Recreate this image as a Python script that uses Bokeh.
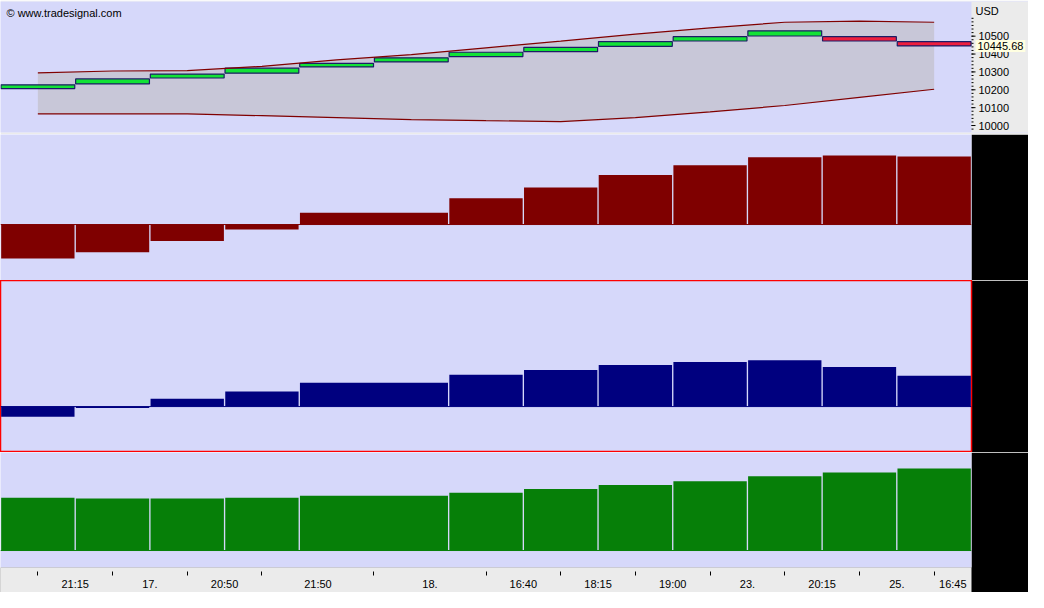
import numpy as np
from bokeh.plotting import figure
from bokeh.models import Range1d, LinearAxis, FixedTicker, Label, Span, BoxAnnotation
from bokeh.layouts import column
from bokeh.embed import file_html
from bokeh.resources import INLINE
from bokeh.core.properties import value

# ---------------- data ----------------
candle_open = [10207, 10233, 10266, 10293, 10328, 10356, 10386, 10413, 10443, 10473, 10501, 10497, 10469]
candle_close = [10228, 10261, 10288, 10321, 10348, 10379, 10410, 10437, 10470, 10497, 10530, 10473, 10445.68]
band_upper = [10295, 10305, 10307, 10331, 10367, 10397, 10435, 10472, 10511, 10546, 10578, 10584, 10578]
band_lower = [10065, 10065, 10065, 10055, 10044, 10033, 10027, 10022, 10044, 10076, 10112, 10158, 10203]
price_ticks = [10000, 10100, 10200, 10300, 10400, 10500]
price_minor_step = 20
last_price = 10445.68
currency = "USD"
credit = "\u00a9 www.tradesignal.com"

bar_periods = [1, 1, 1, 1, 2, 1, 1, 1, 1, 1, 1, 1]
momentum = [-35, -28.5, -17, -5, 12, 27, 38, 51, 61, 69, 71, 70]
oscillator = [-10.5, -1.5, 8, 15.5, 24.5, 32.5, 37.5, 42.5, 45.5, 47.5, 40.5, 31.5]
volume = [54.5, 53.5, 53.5, 54.5, 56.5, 59.5, 63.5, 67.5, 71.5, 76.5, 80.5, 84.5]
time_labels = ["21:15", "17.", "20:50", "21:50", "18.", "16:40", "18:15", "19:00", "23.", "20:15", "25.", "16:45"]

# ---------------- style ----------------
W = 1028
RIGHT = 57
BG = "#D6D8FA"
GRAY = "#EBEBEB"
FONT = "Liberation Sans"

n = len(candle_open)
xr = Range1d(0, n)


def make_fig(h, yr, border, x_range=xr, right=RIGHT, **kw):
    p = figure(width=W, height=h, x_range=x_range, y_range=yr, output_backend="svg",
               toolbar_location=None, x_axis_location=None, y_axis_location=None,
               min_border=0, min_border_right=right, background_fill_color=BG,
               border_fill_color=border, outline_line_color=None, **kw)
    p.grid.grid_line_color = None
    return p


# ---------------- price panel (its frame also holds the price scale strip) ----------------
y1 = Range1d(9961, 10694)
x1 = Range1d(0, n * W / (W - RIGHT))
f1 = make_fig(134, y1, GRAY, x_range=x1, right=0, min_border_top=1, min_border_bottom=2,
              frame_width=W)
if "frame_align" in f1.properties():
    f1.frame_align = False
f1.add_layout(BoxAnnotation(left=n, fill_color=GRAY, fill_alpha=1, line_color=None, level="underlay"))

idx = np.arange(n)
centers = idx + 0.5
f1.varea(x=centers, y1=band_lower, y2=band_upper, fill_color="#C8C7D8")
o = np.array(candle_open, dtype=float)
c = np.array(candle_close, dtype=float)
cols = ["#12E236" if cc >= oo else "#EE1E3E" for oo, cc in zip(o, c)]
f1.quad(left=idx + 0.006, right=idx + 1 - 0.006, bottom=np.minimum(o, c), top=np.maximum(o, c),
        fill_color=cols, line_color="#1C1C66", line_width=1.2)
f1.line(centers, band_upper, line_color="#800000", line_width=1.2)
f1.line(centers, band_lower, line_color="#800000", line_width=1.2)

# price scale at the right edge of the chart
minor = np.arange(price_ticks[0] - price_minor_step, price_ticks[-1] + 5 * price_minor_step + 1, price_minor_step)
f1.ray(x=n, y=minor, length=2, length_units="screen", angle=0, line_color="black", line_width=1)
f1.ray(x=n, y=price_ticks, length=4, length_units="screen", angle=0, line_color="black", line_width=1)
f1.text(x=n, y=price_ticks, text=[str(t) for t in price_ticks], x_offset=7,
        text_baseline="middle", text_align="left", text_font=value(FONT),
        text_font_size="11px", text_color="black")

f1.add_layout(Label(x=0, y=y1.end, x_offset=6, y_offset=-11, text=credit, text_font=FONT,
                    text_font_size="11px", text_baseline="middle", text_color="black"))
f1.add_layout(Label(x=n, y=y1.end, x_offset=4, y_offset=-9, text=currency, text_font=FONT,
                    text_font_size="11px", text_baseline="middle", text_color="black"))
f1.add_layout(Label(x=n, y=last_price, x_offset=4, text=f"{last_price:.2f}", text_font=FONT,
                    text_font_size="11px", text_baseline="middle", text_color="black",
                    background_fill_color="#FFFFE1", padding=2))

# ---------------- indicator panels ----------------
edges = np.concatenate([[0], np.cumsum(bar_periods)]).astype(float)
bl = edges[:-1] + 0.009
br = edges[1:] - 0.009


def bars(p, vals, color):
    v = np.array(vals, dtype=float)
    p.quad(left=bl, right=br, bottom=np.minimum(v, 0), top=np.maximum(v, 0),
           fill_color=color, line_color=None)
    p.add_layout(Span(location=0, dimension="width", line_color=color, line_width=1))


f2 = make_fig(146, Range1d(-57.5, 92.5), "black")
bars(f2, momentum, "#7F0000")

f3 = make_fig(172, Range1d(-47, 129), "black")
f3.outline_line_color = "#FF0000"
f3.outline_line_width = 1.5
bars(f3, oscillator, "#00007F")

f4 = make_fig(140, Range1d(-17.5, 101), "black", min_border_bottom=25)
bars(f4, volume, "#067F08")

bar_centers = (edges[:-1] + edges[1:]) / 2
label_pos = (bar_centers + np.append(bar_centers[1:], edges[-1])) / 2
xax = LinearAxis(ticker=FixedTicker(ticks=[float(v) for v in label_pos],
                                    minor_ticks=[float(v) for v in bar_centers]),
                 major_label_overrides={float(pp): t for pp, t in zip(label_pos, time_labels)},
                 major_tick_in=0, major_tick_out=0, minor_tick_in=-4, minor_tick_out=8,
                 minor_tick_line_color="black", axis_line_color=None, major_label_standoff=2,
                 major_label_text_font=FONT, major_label_text_font_size="11px",
                 major_label_text_color="black", background_fill_color=GRAY)
f4.add_layout(xax, "below")

p = column(f1, f2, f3, f4, spacing=0)
open("out.html", "w").write(file_html(p, INLINE))
